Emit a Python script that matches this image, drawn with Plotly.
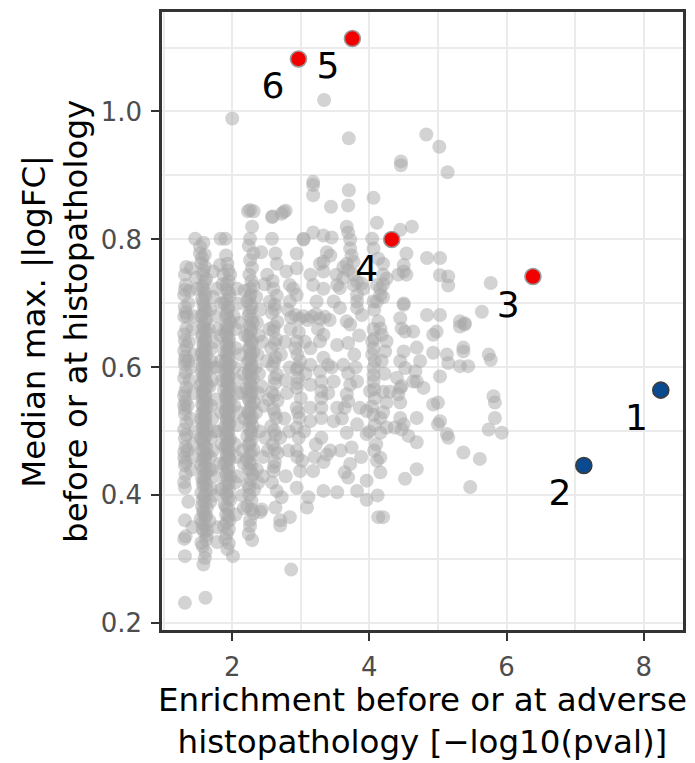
import plotly.graph_objects as go

# ---------------- data ----------------
# highlighted gene sets
red_x = [6.385, 4.326, 3.752, 2.966]
red_y = [0.742, 0.800, 1.114, 1.082]
blue_x = [8.249, 7.127]
blue_y = [0.5645, 0.4467]

label_text = ["1", "2", "3", "4", "5", "6"]
label_x = [7.895, 6.778, 6.025, 3.962, 3.394, 2.593]
label_y = [0.517, 0.3996, 0.6936, 0.7496, 1.0658, 1.0358]

# background points, grouped by region of the plot
grey_col_a = [(1.31,0.232),(1.31,0.305),(1.30,0.332),(1.32,0.336),(1.31,0.361),(1.31,0.412),(1.30,0.421),
    (1.32,0.433),(1.31,0.447),(1.30,0.459),(1.32,0.476),(1.31,0.489),(1.30,0.503),(1.33,0.514),(1.31,0.527),
    (1.30,0.541),(1.32,0.547),(1.31,0.561),(1.33,0.569),(1.30,0.583),(1.31,0.604),(1.32,0.617),(1.30,0.626),
    (1.31,0.642),(1.33,0.661),(1.30,0.679),(1.31,0.694),(1.30,0.713),(1.32,0.729),(1.31,0.745),(1.33,0.757),
    (1.38,0.72),(1.42,0.66),(1.40,0.60),(1.44,0.56),(1.39,0.52),(1.43,0.48),(1.40,0.44),(1.37,0.64),(1.44,0.62),
    (1.38,0.58),(1.45,0.50),(1.41,0.46),(1.36,0.70),(1.44,0.68),(1.40,0.755),(1.36,0.39),(1.42,0.35),(1.46,0.801),
    (1.32,0.452),(1.30,0.468),(1.33,0.495),(1.31,0.535),(1.30,0.555),(1.32,0.592),(1.31,0.611),(1.33,0.633),
    (1.30,0.652),(1.32,0.686),(1.31,0.721),(1.35,0.54),(1.36,0.61),(1.35,0.47),(1.34,0.68),(1.47,0.74)]

grey_col_b = [(1.58,0.292),(1.61,0.312),(1.55,0.326),(1.63,0.338),(1.57,0.347),(1.60,0.354),(1.54,0.363),
    (1.62,0.369),(1.58,0.376),(1.56,0.383),(1.61,0.389),(1.59,0.397),(1.55,0.404),(1.63,0.409),(1.58,0.415),
    (1.60,0.423),(1.56,0.428),(1.62,0.434),(1.58,0.441),(1.55,0.447),(1.61,0.452),(1.59,0.459),(1.63,0.464),
    (1.56,0.471),(1.60,0.477),(1.58,0.483),(1.54,0.489),(1.62,0.494),(1.59,0.501),(1.57,0.507),(1.61,0.513),
    (1.55,0.519),(1.60,0.524),(1.58,0.531),(1.63,0.537),(1.56,0.542),(1.59,0.549),(1.61,0.555),(1.57,0.561),
    (1.60,0.567),(1.54,0.572),(1.62,0.578),(1.58,0.585),(1.56,0.591),(1.60,0.596),(1.63,0.603),(1.57,0.609),
    (1.59,0.615),(1.55,0.621),(1.61,0.627),(1.58,0.634),(1.60,0.641),(1.56,0.648),(1.62,0.655),(1.58,0.662),
    (1.60,0.671),(1.55,0.679),(1.61,0.688),(1.58,0.697),(1.56,0.707),(1.60,0.716),(1.57,0.727),(1.62,0.738),
    (1.58,0.751),(1.55,0.763),(1.60,0.776),(1.53,0.778),(1.53,0.789),
    (1.67,0.36),(1.70,0.41),(1.68,0.46),(1.71,0.52),(1.67,0.57),(1.70,0.63),(1.68,0.69),(1.72,0.75),(1.66,0.44),
    (1.69,0.49),(1.73,0.60),(1.66,0.66),(1.74,0.40),(1.76,0.55),(1.78,0.35),(1.78,0.327),(1.63,0.345),
    (1.61,0.24),(1.49,0.723),(1.78,0.723)]

grey_col_b_dense = [(1.60,0.302),(1.57,0.321),(1.62,0.331),(1.59,0.343),(1.56,0.357),(1.61,0.366),
    (1.58,0.372),(1.63,0.381),(1.57,0.392),(1.60,0.401),(1.62,0.418),(1.57,0.420),(1.59,0.431),(1.61,0.444),
    (1.57,0.455),(1.60,0.462),(1.58,0.468),(1.62,0.474),(1.57,0.486),(1.60,0.491),(1.58,0.497),(1.63,0.504),
    (1.57,0.511),(1.59,0.516),(1.61,0.522),(1.56,0.528),(1.60,0.534),(1.58,0.540),(1.62,0.546),(1.57,0.552),
    (1.60,0.558),(1.58,0.564),(1.63,0.570),(1.56,0.576),(1.60,0.582),(1.58,0.588),(1.62,0.593),(1.57,0.600),
    (1.60,0.606),(1.58,0.612),(1.62,0.618),(1.57,0.624),(1.60,0.630),(1.58,0.638),(1.61,0.645),(1.57,0.652),
    (1.60,0.659),(1.58,0.667),(1.62,0.675),(1.57,0.684),(1.60,0.693),(1.58,0.703),(1.61,0.711),(1.58,0.722),
    (1.60,0.733),(1.57,0.745),(1.60,0.758),(1.56,0.771),(1.58,0.795),
    (1.70,0.44),(1.72,0.47),(1.69,0.54),(1.71,0.58),(1.73,0.64),(1.69,0.61),(1.75,0.50),(1.76,0.68),
    (1.74,0.43),(1.68,0.39),(1.72,0.71),(1.77,0.60)]

grey_col_c = [(2.01,0.305),(1.95,0.325),(1.92,0.34),(1.88,0.352),(1.96,0.361),(1.91,0.37),(1.94,0.379),
    (1.89,0.386),(1.97,0.393),(1.92,0.401),(1.95,0.408),(1.90,0.416),(1.93,0.423),(1.97,0.429),(1.91,0.436),
    (1.94,0.443),(1.88,0.449),(1.96,0.456),(1.92,0.462),(1.95,0.469),(1.90,0.475),(1.93,0.482),(1.97,0.488),
    (1.91,0.495),(1.94,0.501),(1.89,0.507),(1.96,0.514),(1.92,0.52),(1.95,0.527),(1.90,0.533),(1.93,0.539),
    (1.97,0.546),(1.91,0.552),(1.94,0.558),(1.88,0.565),(1.96,0.571),(1.92,0.578),(1.95,0.584),(1.90,0.591),
    (1.93,0.597),(1.97,0.604),(1.91,0.611),(1.94,0.617),(1.89,0.624),(1.96,0.631),(1.92,0.638),(1.95,0.646),
    (1.90,0.654),(1.93,0.662),(1.97,0.671),(1.91,0.68),(1.94,0.69),(1.89,0.70),(1.96,0.711),(1.92,0.722),
    (1.95,0.735),(1.87,0.745),(1.97,0.745),(1.93,0.762),(1.90,0.801),(1.83,0.801),
    (2.05,0.37),(2.08,0.43),(2.04,0.48),(2.10,0.53),(2.06,0.58),(2.12,0.62),(2.05,0.66),(2.09,0.70),(2.14,0.40),
    (2.13,0.56),(2.03,0.60),(2.07,0.51),(2.15,0.47),(2.11,0.67),(1.82,0.76),(1.80,0.66),(1.83,0.61),(1.79,0.50),
    (1.82,0.45),(1.84,0.70),(2.07,0.723),(2.00,0.989)]

grey_col_c_dense = [(1.93,0.316),(1.90,0.332),(1.95,0.347),(1.92,0.358),(1.94,0.368),(1.91,0.382),
    (1.94,0.396),(1.91,0.405),(1.95,0.418),(1.92,0.431),(1.94,0.439),(1.91,0.452),(1.95,0.459),(1.92,0.466),
    (1.94,0.473),(1.91,0.479),(1.95,0.485),(1.92,0.491),(1.94,0.497),(1.91,0.504),(1.95,0.510),(1.92,0.517),
    (1.94,0.523),(1.91,0.530),(1.95,0.536),(1.92,0.543),(1.94,0.549),(1.91,0.556),(1.95,0.562),(1.92,0.568),
    (1.94,0.575),(1.91,0.581),(1.95,0.588),(1.92,0.594),(1.94,0.601),(1.91,0.607),(1.95,0.614),(1.92,0.621),
    (1.94,0.627),(1.91,0.634),(1.95,0.641),(1.92,0.650),(1.94,0.658),(1.91,0.666),(1.95,0.676),(1.92,0.685),
    (1.94,0.695),(1.91,0.706),(1.95,0.717),(1.92,0.730),(1.94,0.752),(1.91,0.775),
    (2.04,0.42),(2.06,0.46),(2.03,0.54),(2.08,0.56),(2.05,0.63),(2.02,0.68),(1.84,0.53),(1.85,0.58),
    (1.83,0.65),(1.85,0.48),(1.84,0.41),(1.86,0.73)]

grey_col_d = [(2.29,0.33),(2.24,0.34),(2.26,0.361),(2.31,0.372),(2.22,0.383),(2.28,0.392),(2.25,0.401),
    (2.32,0.409),(2.23,0.417),(2.27,0.425),(2.30,0.433),(2.24,0.441),(2.28,0.449),(2.21,0.456),(2.26,0.463),
    (2.31,0.471),(2.24,0.478),(2.28,0.486),(2.22,0.493),(2.27,0.50),(2.30,0.508),(2.25,0.515),(2.29,0.522),
    (2.23,0.53),(2.27,0.537),(2.32,0.545),(2.24,0.552),(2.28,0.56),(2.21,0.567),(2.26,0.575),(2.30,0.583),
    (2.24,0.591),(2.28,0.599),(2.22,0.607),(2.27,0.615),(2.31,0.624),(2.25,0.632),(2.29,0.641),(2.23,0.65),
    (2.27,0.66),(2.30,0.67),(2.24,0.681),(2.28,0.692),(2.22,0.703),(2.27,0.714),(2.26,0.723),(2.31,0.727),
    (2.25,0.745),(2.29,0.756),(2.31,0.778),(2.26,0.801),(2.23,0.844),(2.31,0.844),(2.26,0.846),
    (2.43,0.378),(2.41,0.374),(2.38,0.42),(2.45,0.46),(2.40,0.50),(2.46,0.54),(2.39,0.59),(2.44,0.64),
    (2.41,0.69),(2.47,0.73),(2.37,0.62),(2.43,0.57),(2.48,0.49),(2.36,0.67),(2.42,0.78),(2.45,0.43)]

grey_col_d_dense = [(2.26,0.352),(2.28,0.378),(2.25,0.412),(2.27,0.438),(2.25,0.452),(2.27,0.468),
    (2.25,0.482),(2.28,0.496),(2.25,0.505),(2.27,0.518),(2.25,0.527),(2.28,0.541),(2.25,0.548),(2.27,0.556),
    (2.25,0.563),(2.28,0.571),(2.25,0.579),(2.27,0.587),(2.25,0.595),(2.28,0.603),(2.25,0.611),(2.27,0.620),
    (2.25,0.628),(2.28,0.637),(2.25,0.645),(2.27,0.655),(2.25,0.665),(2.28,0.676),(2.25,0.687),(2.27,0.698),
    (2.25,0.709),(2.28,0.735),(2.26,0.768),(2.24,0.79),(2.29,0.82),
    (2.36,0.44),(2.35,0.53),(2.38,0.56),(2.34,0.60),(2.39,0.65),(2.35,0.71),(2.17,0.45),(2.18,0.52),
    (2.16,0.59),(2.19,0.65),(2.18,0.72),(2.17,0.38)]

grey_col_e = [(2.70,0.353),(2.70,0.361),(2.63,0.381),(2.72,0.397),(2.65,0.407),(2.60,0.438),(2.58,0.42),
    (2.62,0.452),(2.66,0.466),(2.59,0.48),(2.63,0.494),(2.57,0.508),(2.64,0.521),(2.60,0.535),(2.66,0.548),
    (2.58,0.561),(2.62,0.575),(2.65,0.589),(2.59,0.602),(2.63,0.616),(2.57,0.63),(2.64,0.644),(2.60,0.657),
    (2.66,0.671),(2.58,0.685),(2.55,0.703),(2.62,0.698),(2.65,0.712),(2.60,0.723),(2.51,0.745),(2.59,0.735),
    (2.65,0.762),(2.63,0.778),(2.58,0.801),(2.58,0.835),(2.59,0.836),(2.72,0.840),(2.75,0.843),(2.78,0.845),
    (2.84,0.366),(2.86,0.284),(2.78,0.43),(2.82,0.47),(2.76,0.52),(2.80,0.56),(2.84,0.60),(2.77,0.64),
    (2.81,0.69),(2.79,0.75),(2.83,0.50),(2.78,0.58),(2.85,0.66),(2.84,0.703),(2.84,0.729),(2.89,0.723),
    (2.61,0.445),(2.62,0.472),(2.61,0.501),(2.62,0.528),(2.61,0.556),(2.62,0.583),(2.61,0.609),(2.62,0.637),
    (2.61,0.664),(2.62,0.691),(2.52,0.47),(2.53,0.55),(2.51,0.61),(2.54,0.66),(2.70,0.49),(2.71,0.62)]

grey_col_f = [(3.11,0.397),(3.09,0.381),(2.94,0.412),(2.99,0.438),(3.02,0.454),(2.94,0.47),(2.97,0.49),
    (2.94,0.506),(2.98,0.521),(2.94,0.537),(3.00,0.552),(2.94,0.568),(2.96,0.584),(2.94,0.597),(2.99,0.61),
    (2.95,0.62),(2.92,0.63),(2.94,0.641),(2.97,0.655),(2.94,0.713),(2.94,0.755),(2.94,0.778),(3.04,0.801),
    (2.86,0.678),(2.92,0.682),(2.98,0.676),(3.04,0.680),(3.10,0.674),(3.16,0.679),(3.22,0.683),(3.28,0.676),
    (3.35,0.679),(3.42,0.674),(3.23,0.703),(3.14,0.745),(3.18,0.729),(3.04,0.80),
    (2.95,0.46),(2.96,0.53),(2.95,0.575),(2.96,0.60),(3.05,0.50),(3.07,0.59),(3.06,0.64)]

grey_col_g = [(3.33,0.407),(3.53,0.405),(3.18,0.438),(3.33,0.452),(3.38,0.464),(3.43,0.47),(3.22,0.48),
    (3.30,0.49),(3.14,0.516),(3.48,0.516),(3.30,0.521),(3.14,0.537),(3.53,0.537),(3.30,0.537),(3.30,0.552),
    (3.30,0.563),(3.30,0.578),(3.14,0.573),(3.48,0.578),(3.28,0.594),(3.40,0.604),(3.14,0.604),(3.33,0.615),
    (3.14,0.63),(3.28,0.641),(3.33,0.651),(3.53,0.635),(3.25,0.66),(3.40,0.56),(3.45,0.60),(3.20,0.46),
    (3.48,0.703),(3.33,0.723),(3.33,0.75),(3.52,0.745),(3.53,0.729),(3.28,0.762),(3.33,0.765),(3.38,0.78),
    (3.43,0.775),(3.18,0.811),(3.33,0.806),(3.45,0.803),(3.44,0.851),(3.18,0.89),(3.18,0.885),(3.18,0.869),
    (3.34,1.018)]

grey_col_h = [(3.82,0.407),(3.96,0.393),(3.69,0.428),(3.64,0.436),(3.72,0.449),(3.96,0.423),(3.74,0.475),
    (3.67,0.498),(3.96,0.496),(3.82,0.511),(3.86,0.537),(3.64,0.537),(3.69,0.547),(3.67,0.558),(3.72,0.573),
    (3.82,0.578),(3.69,0.591),(3.62,0.604),(3.69,0.638),(3.67,0.672),(3.72,0.667),(3.57,0.693),(3.82,0.693),
    (3.89,0.682),(3.78,0.62),(3.85,0.65),(3.60,0.52),(3.58,0.47),(3.88,0.46),(3.80,0.60),(3.82,0.703),
    (3.82,0.713),(3.57,0.724),(3.77,0.729),(3.89,0.731),(3.82,0.734),(3.62,0.74),(3.77,0.745),(3.69,0.752),
    (3.62,0.757),(3.77,0.765),(3.67,0.762),(3.74,0.775),(3.72,0.786),(3.72,0.80),(3.69,0.811),(3.67,0.82),
    (3.69,0.853),(3.70,0.877),(3.70,0.958),(3.91,0.723)]

grey_col_i = [(4.13,0.366),(4.20,0.366),(4.11,0.454),(4.16,0.436),(4.16,0.459),(4.16,0.498),(4.16,0.521),
    (4.25,0.506),(3.96,0.532),(4.04,0.539),(4.08,0.552),(4.01,0.563),(4.06,0.578),(4.06,0.599),(4.08,0.61),
    (4.04,0.62),(4.06,0.63),(4.04,0.641),(4.25,0.641),(4.23,0.625),(4.18,0.61),(4.13,0.672),(4.16,0.661),
    (4.18,0.651),(4.20,0.562),(4.10,0.48),(4.22,0.59),(4.00,0.50),(4.12,0.40),(4.20,0.53),(4.07,0.69),
    (4.06,0.703),(4.11,0.703),(4.16,0.713),(4.11,0.729),(4.16,0.723),(4.25,0.739),(4.20,0.745),(4.13,0.77),
    (4.20,0.762),(4.06,0.786),(4.04,0.801),(4.11,0.826),(4.06,0.865),
    (4.07,0.47),(4.08,0.51),(4.06,0.526),(4.07,0.566),(4.06,0.588),(4.07,0.645),(4.06,0.66)]

grey_col_j = [(4.52,0.426),(4.69,0.441),(4.47,0.503),(4.50,0.511),(4.45,0.521),(4.69,0.521),(4.37,0.506),
    (4.69,0.483),(4.57,0.493),(4.45,0.545),(4.42,0.558),(4.47,0.571),(4.40,0.584),(4.30,0.562),(4.25,0.545),
    (4.45,0.568),(4.64,0.578),(4.67,0.594),(4.69,0.578),(4.79,0.568),(4.52,0.599),(4.45,0.61),(4.50,0.625),
    (4.74,0.61),(4.69,0.631),(4.64,0.656),(4.47,0.661),(4.52,0.656),(4.45,0.677),(4.50,0.698),(4.50,0.70),
    (4.50,0.75),(4.50,0.76),(4.54,0.745),(4.42,0.745),(4.54,0.778),(4.45,0.815),(4.62,0.82),(4.46,0.922),
    (4.46,0.916),(4.20,0.71),(4.20,0.73)]

grey_right = [(4.84,0.682),(4.93,0.651),(4.98,0.656),(5.32,0.664),(5.39,0.667),(4.93,0.623),(5.13,0.62),
    (5.15,0.607),(5.37,0.631),(5.37,0.625),(5.32,0.602),(5.44,0.602),(5.74,0.62),(5.77,0.612),(5.03,0.586),
    (4.93,0.542),(5.00,0.545),(5.81,0.555),(5.83,0.545),(5.83,0.521),(5.74,0.503),(5.93,0.498),(5.03,0.516),
    (5.00,0.511),(5.13,0.496),(5.15,0.49),(5.37,0.467),(5.61,0.457),(5.47,0.413),(5.03,0.682),(5.32,0.672),
    (5.39,0.669),(5.64,0.687),(5.77,0.732),(5.15,0.742),(5.15,0.728),(5.03,0.744),(5.03,0.771),(4.84,0.771),
    (4.83,0.964),(5.02,0.945),(5.14,0.905)]

grey_groups = [grey_col_a, grey_col_b, grey_col_b_dense, grey_col_c, grey_col_c_dense, grey_col_d,
               grey_col_d_dense, grey_col_e, grey_col_f, grey_col_g, grey_col_h, grey_col_i,
               grey_col_j, grey_right]

x_ticks = [2, 4, 6, 8]
y_ticks = [0.2, 0.4, 0.6, 0.8, 1.0]
y_ticktext = ["0.2", "0.4", "0.6", "0.8", "1.0"]

# ---------------- figure ----------------
gx = [p[0] for g in grey_groups for p in g]
gy = [p[1] for g in grey_groups for p in g]

FONT = "DejaVu Sans"

fig = go.Figure()
fig.add_trace(go.Scatter(
    x=gx, y=gy, mode="markers", hoverinfo="skip",
    marker=dict(size=14, color="rgba(168,168,168,0.5)", line=dict(width=0)),
))
fig.add_trace(go.Scatter(
    x=red_x, y=red_y, mode="markers",
    marker=dict(size=16, color="#f20000", line=dict(width=1.6, color="#9a9a9a")),
))
fig.add_trace(go.Scatter(
    x=blue_x, y=blue_y, mode="markers",
    marker=dict(size=16, color="#0a4a91", line=dict(width=1.6, color="#3c3c3c")),
))
fig.add_trace(go.Scatter(
    x=label_x, y=label_y, mode="text", text=label_text,
    textposition="middle center",
    textfont=dict(family=FONT, size=36, color="#000000"),
))

axis_common = dict(
    showline=True, mirror=True, linecolor="#333333", linewidth=2.5,
    ticks="outside", ticklen=8, tickwidth=2.2, tickcolor="#333333",
    showgrid=True, gridcolor="#ebebeb", gridwidth=2.2, zeroline=False,
    tickfont=dict(family=FONT, size=26, color="#4d4d4d"),
)

fig.update_layout(
    width=695, height=763,
    margin=dict(l=162, r=12, t=9, b=133),
    paper_bgcolor="white", plot_bgcolor="white",
    showlegend=False,
    xaxis=dict(range=[0.976, 8.573], tickvals=x_ticks, ticklabelstandoff=4,
               minor=dict(tickvals=[1, 3, 5, 7], showgrid=True, gridcolor="#ebebeb", gridwidth=1.5),
               **axis_common),
    yaxis=dict(range=[0.1896, 1.1555], tickvals=y_ticks, ticktext=y_ticktext, ticklabelstandoff=4,
               minor=dict(tickvals=[0.3, 0.5, 0.7, 0.9, 1.1], showgrid=True, gridcolor="#ebebeb", gridwidth=1.5),
               **axis_common),
    annotations=[
        dict(text="Enrichment before or at adverse<br>histopathology [\u2212log10(pval)]",
             xref="paper", yref="paper", x=0.5, y=-0.1465, xanchor="center", yanchor="middle",
             showarrow=False, font=dict(family=FONT, size=32.5, color="#000000")),
        dict(text="Median max. |logFC|<br>before or at histopathology",
             xref="paper", yref="paper", x=-0.2054, y=0.5, xanchor="center", yanchor="middle",
             textangle=-90, showarrow=False, font=dict(family=FONT, size=32.5, color="#000000")),
    ],
)

fig.write_html("out.html")
